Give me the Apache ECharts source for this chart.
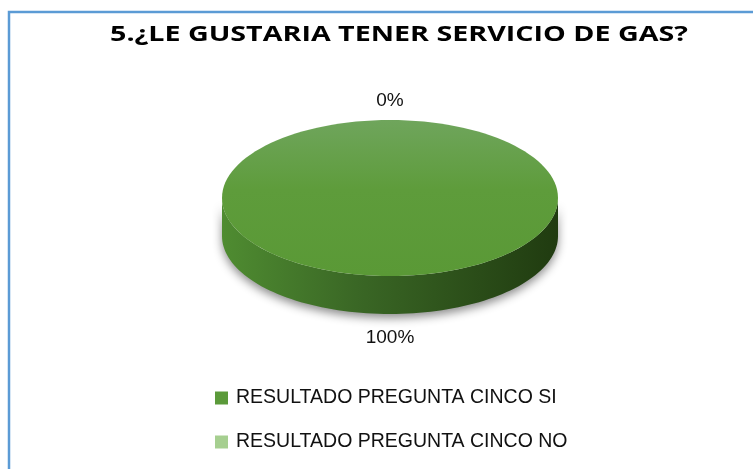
<!DOCTYPE html>
<html>
<head>
<meta charset="utf-8">
<script src="https://cdn.jsdelivr.net/npm/echarts@6/dist/echarts.min.js"></script>
<style>
  html, body { margin: 0; padding: 0; background: #fff; }
  #chart { width: 753px; height: 469px; }
</style>
</head>
<body>
<div id="chart"></div>
<script>
// datos de la pregunta 5
const categories = ['RESULTADO PREGUNTA CINCO SI', 'RESULTADO PREGUNTA CINCO NO'];
const values = [100, 0];
const titleText = '5.¿LE GUSTARIA TENER SERVICIO DE GAS?';

const legendColors = ['#5b9a3a', '#a6cf90'];
const FONT = '"Liberation Sans", Arial, sans-serif';
const TITLE_FONT = 'bold 21px "Open Sans", "Liberation Sans", sans-serif';

// geometria del pastel "3D"
const geo = { cx: 390, cy: 198, rx: 168, ry: 78, depth: 38, labelOff: 21.5, labelDy: 2 };

const total = values.reduce((a, b) => a + b, 0);

function pt(theta, dy) {
    return [geo.cx + geo.rx * Math.sin(theta), geo.cy - geo.ry * Math.cos(theta) + dy];
}

function arcPoints(a0, a1, dy) {
    const pts = [];
    const n = Math.max(2, Math.ceil((a1 - a0) / (Math.PI / 90)));
    for (let k = 0; k <= n; k++) {
        pts.push(pt(a0 + (a1 - a0) * k / n, dy));
    }
    return pts;
}

const makeRender = (idx) => (params, api) => {
    let before = 0;
    for (let j = 0; j < idx; j++) before += values[j];
    const v = api.value(0);
    const a0 = before / total * Math.PI * 2;
    const a1 = (before + v) / total * Math.PI * 2;
    const children = [];

    // cara lateral visible (mitad delantera)
    const s0 = Math.max(a0, Math.PI / 2);
    const s1 = Math.min(a1, Math.PI * 3 / 2);
    if (s1 > s0) {
        const top = arcPoints(s0, s1, 0);
        const bottom = arcPoints(s0, s1, geo.depth).reverse();
        children.push({
            type: 'polygon',
            shape: { points: top.concat(bottom) },
            style: {
                fill: new echarts.graphic.LinearGradient(0, 0, 1, 0, [
                    { offset: 0, color: '#4f8c31' },
                    { offset: 0.4, color: '#3a6725' },
                    { offset: 1, color: '#203b10' }
                ]),
                shadowBlur: 10,
                shadowColor: 'rgba(0,0,0,0.45)',
                shadowOffsetY: 4
            }
        });
    }

    // cara superior
    if (v > 0) {
        const topFill = new echarts.graphic.LinearGradient(0, 0, 0, 1, [
            { offset: 0, color: '#6fa55c' },
            { offset: 0.45, color: '#5e9c3b' },
            { offset: 1, color: '#5a9936' }
        ]);
        if (a1 - a0 >= Math.PI * 2 - 1e-6) {
            children.push({
                type: 'ellipse',
                shape: { cx: geo.cx, cy: geo.cy, rx: geo.rx, ry: geo.ry },
                style: { fill: topFill }
            });
        } else {
            children.push({
                type: 'polygon',
                shape: { points: [[geo.cx, geo.cy]].concat(arcPoints(a0, a1, 0)) },
                style: { fill: topFill }
            });
        }
    }

    // etiqueta de porcentaje
    const mid = (a0 + a1) / 2;
    const base = pt(mid, Math.cos(mid) < 0 ? geo.depth : 0);
    const pct = total ? Math.round(v / total * 100) : 0;
    children.push({
        type: 'text',
        x: base[0] + Math.sin(mid) * geo.labelOff,
        y: base[1] - Math.cos(mid) * geo.labelOff + geo.labelDy,
        style: {
            text: pct + '%',
            font: '19px ' + FONT,
            fill: '#111',
            textAlign: 'center',
            textVerticalAlign: 'middle'
        }
    });

    return { type: 'group', children: children };
};

// ancho del titulo: se estira para ocupar el mismo espacio que el original
const ctx = document.createElement('canvas').getContext('2d');
ctx.font = TITLE_FONT;
const titleScale = 578 / ctx.measureText(titleText).width;

const chart = echarts.init(document.getElementById('chart'));

const option = {
    backgroundColor: '#fff',
    animation: false,
    graphic: [
        {
            type: 'rect',
            z: -1,
            shape: { x: 9, y: 12, width: 800, height: 500 },
            style: { fill: 'none', stroke: '#5b9bd5', lineWidth: 2.5 }
        },
        {
            type: 'text',
            x: 399,
            y: 35,
            scaleX: titleScale,
            style: {
                text: titleText,
                x: 0,
                y: 0,
                font: TITLE_FONT,
                fill: '#000',
                textAlign: 'center',
                textVerticalAlign: 'middle',
                shadowBlur: 4,
                shadowColor: 'rgba(0,0,0,0.45)',
                shadowOffsetX: 2,
                shadowOffsetY: 2
            }
        }
    ],
    legend: {
        orient: 'vertical',
        left: 210,
        top: 383,
        icon: 'rect',
        itemWidth: 13,
        itemHeight: 13,
        itemGap: 24,
        data: categories,
        textStyle: {
            fontSize: 19.5,
            fontFamily: FONT,
            color: '#111',
            padding: [0, 0, 0, 3]
        }
    },
    series: categories.map((name, i) => ({
        type: 'custom',
        name: name,
        coordinateSystem: 'none',
        itemStyle: { color: legendColors[i] },
        renderItem: makeRender(i),
        data: [[values[i]]]
    }))
};

chart.setOption(option);
</script>
</body>
</html>
